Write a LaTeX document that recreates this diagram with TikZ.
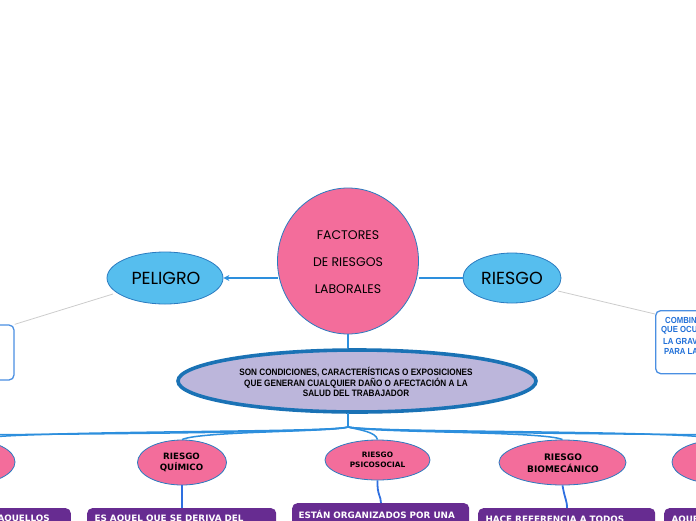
\documentclass[tikz,border=0pt]{standalone}
\usepackage{fontspec}
\usetikzlibrary{shapes.geometric,arrows.meta}
\setmainfont{Liberation Sans}
\newfontfamily\handfont{Poppins}
\newfontfamily\narrowfont[FakeStretch=0.88]{Liberation Sans}
\newfontfamily\verdfont{DejaVu Sans}
\definecolor{pinkfill}{HTML}{F36D9B}
\definecolor{skyfill}{HTML}{56BEEE}
\definecolor{lavfill}{HTML}{BCB6DB}
\definecolor{purp}{HTML}{672C91}
\definecolor{edgeblue}{HTML}{2A7BC0}
\definecolor{linkblue}{HTML}{2D8FDD}
\definecolor{darkblue}{HTML}{1A72B5}
\definecolor{boxblue}{HTML}{4A8FE2}
\definecolor{txtblue}{HTML}{1F6FD8}
\definecolor{stemblue}{HTML}{2E6FE0}
\begin{document}
\begin{tikzpicture}[x=1pt,y=-1pt,
  pinkell/.style={ellipse,fill=pinkfill,draw=edgeblue,line width=0.8pt,inner sep=0pt},
  skyell/.style={ellipse,fill=skyfill,draw=edgeblue,line width=0.8pt,inner sep=0pt},
  link/.style={draw=linkblue,line width=1.5pt},
  greyline/.style={draw=black!20,line width=0.8pt},
  stem/.style={draw=stemblue,line width=1.8pt},
  purpbox/.style={fill=purp,rounded corners=5pt},
  whitebox/.style={fill=white,draw=boxblue,line width=1.3pt,rounded corners=5pt},
  childtxt/.style={align=center,text=black},
  purptxt/.style={font=\verdfont\bfseries\fontsize{8.8}{10}\selectfont,text=white,anchor=west}]
\useasboundingbox (0,0) rectangle (696,520);
\clip (0,0) rectangle (696,520);
% central circle
\node[pinkell,minimum width=141pt,minimum height=146pt] (cc) at (348,261) {};
\node[font=\handfont\fontsize{12.5}{27}\selectfont,align=center] (ctxt) at (348,262) {FACTORES\\DE RIESGOS\\LABORALES};
\coordinate (cL) at (277.5,278);
\coordinate (cR) at (418.5,278);
% PELIGRO and RIESGO
\node[skyell,minimum width=116pt,minimum height=52pt] (peligro) at (165,278) {};
\node[font=\handfont\fontsize{17.5}{19}\selectfont] (ptxt) at (166,278) {PELIGRO};
\node[skyell,minimum width=98pt,minimum height=50pt] (riesgo) at (512,278) {};
\node[font=\handfont\fontsize{17.5}{19}\selectfont] (rtxt) at (512,278) {RIESGO};
\draw[link,line width=1.2pt,-{Stealth[length=6pt,width=6pt]}] (cL) -- (peligro.east);
\draw[link,line width=1.2pt] (riesgo.west) -- (cR);
% side boxes
\node[whitebox,minimum width=80pt,minimum height=55pt] (lbox) at (-26,352.5) {};
\node[whitebox,minimum width=110pt,minimum height=63pt,anchor=north west] (rbox) at (655,310) {};
\coordinate (pelSW) at (113,294);
\draw[greyline] (pelSW) -- (lbox.north east);
\coordinate (riesgoSE) at (558,291);
\coordinate (rboxNW) at (655,314);
\draw[greyline] (riesgoSE) -- (rboxNW);
\begin{scope}[font=\narrowfont\bfseries\fontsize{8.8}{10}\selectfont,text=txtblue]
\node[anchor=west,inner sep=0pt] (r1) at (665,320) {COMBINACIÓN DE LA};
\node[anchor=west,inner sep=0pt] (r2) at (661,330.5) {QUE OCURRA UN};
\node[anchor=west,inner sep=0pt] (r3) at (663,341) {LA GRAVEDAD};
\node[anchor=west,inner sep=0pt] (r4) at (664,351.5) {PARA LA SALUD};
\end{scope}
% lavender ellipse
\node[ellipse,fill=lavfill,draw=darkblue,line width=3.6pt,minimum width=358pt,minimum height=62pt,inner sep=0pt] (def) at (357,381) {};
\draw[link,line width=1.3pt] (cc.south) -- (cc.south |- def.north);
\node[font=\narrowfont\bfseries\fontsize{9.3}{10.6}\selectfont,align=center] (deftxt) at (356,382) {SON CONDICIONES, CARACTERÍSTICAS O EXPOSICIONES\\QUE GENERAN CUALQUIER DAÑO O AFECTACIÓN A LA\\SALUD DEL TRABAJADOR};
\coordinate (hub) at (348,427);
\coordinate (defB) at (348,413);
\draw[link,line width=1.3pt] (defB) -- (hub);
% child ellipses
\node[pinkell,minimum width=90pt,minimum height=44pt] (c0) at (-30,462) {};
\node[pinkell,minimum width=89pt,minimum height=45pt] (quim) at (182,462.5) {};
\node[childtxt,font=\verdfont\bfseries\fontsize{8.7}{11.5}\selectfont] (qtxt) at (181.5,462.5) {RIESGO\\QUÍMICO};
\node[pinkell,minimum width=105pt,minimum height=40pt] (psico) at (377.5,460) {};
\node[childtxt,font=\verdfont\bfseries\fontsize{7.4}{10}\selectfont] (pstxt) at (377.5,460) {RIESGO\\PSICOSOCIAL};
\node[pinkell,minimum width=127pt,minimum height=45pt] (biom) at (562.5,462.5) {};
\node[childtxt,font=\verdfont\bfseries\fontsize{9}{12}\selectfont] (btxt) at (563,463) {RIESGO\\BIOMECÁNICO};
\node[pinkell,minimum width=96pt,minimum height=44pt] (c4) at (720,462) {};
% branch lines
\coordinate (offL) at (-80,436);
\coordinate (offR) at (780,436);
\draw[link] (hub) .. controls (330,433) and (10,430) .. (c0.north);
\draw[link] (hub) .. controls (320,434) and (-40,434) .. (offL);
\draw[link] (hub) .. controls (335,432) and (200,431) .. (quim.north);
\draw[link] (hub) .. controls (360,430) and (376,432) .. (psico.north);
\draw[link] (hub) .. controls (370,433) and (545,431) .. (biom.north);
\draw[link] (hub) .. controls (380,433) and (700,430) .. (c4.north);
\draw[link] (hub) .. controls (390,434) and (740,434) .. (offR);
% purple boxes
\node[purpbox,minimum width=120pt,minimum height=40pt,anchor=north east] (b0) at (71,508) {};
\node[purpbox,minimum width=189pt,minimum height=40pt,anchor=north west] (b1) at (87,508) {};
\node[purpbox,minimum width=177pt,minimum height=40pt,anchor=north west] (b2) at (292,503) {};
\node[purpbox,minimum width=177pt,minimum height=40pt,anchor=north west] (b3) at (478,508) {};
\node[purpbox,minimum width=120pt,minimum height=40pt,anchor=north west] (b4) at (664,508) {};
\node[purptxt] (t0) at (-6,518.5) {AQUELLOS};
\node[purptxt] (t1) at (91,518.5) {ES AQUEL QUE SE DERIVA DEL};
\node[purptxt] (t2) at (295,514) {ESTÁN ORGANIZADOS POR UNA};
\node[purptxt] (t3) at (482,519.5) {HACE REFERENCIA A TODOS};
\node[purptxt] (t4) at (668,519.5) {AQUELLOS};
% stems
\draw[stem] (quim.south) -- (b1.north -| quim.south);
\draw[stem] (psico.south) .. controls (377,495) and (381,496) .. (b2.north -| 381,0);
\draw[stem] (biom.south) .. controls (565,500) and (567,500) .. (b3.north -| 567,0);
\end{tikzpicture}
\end{document}
